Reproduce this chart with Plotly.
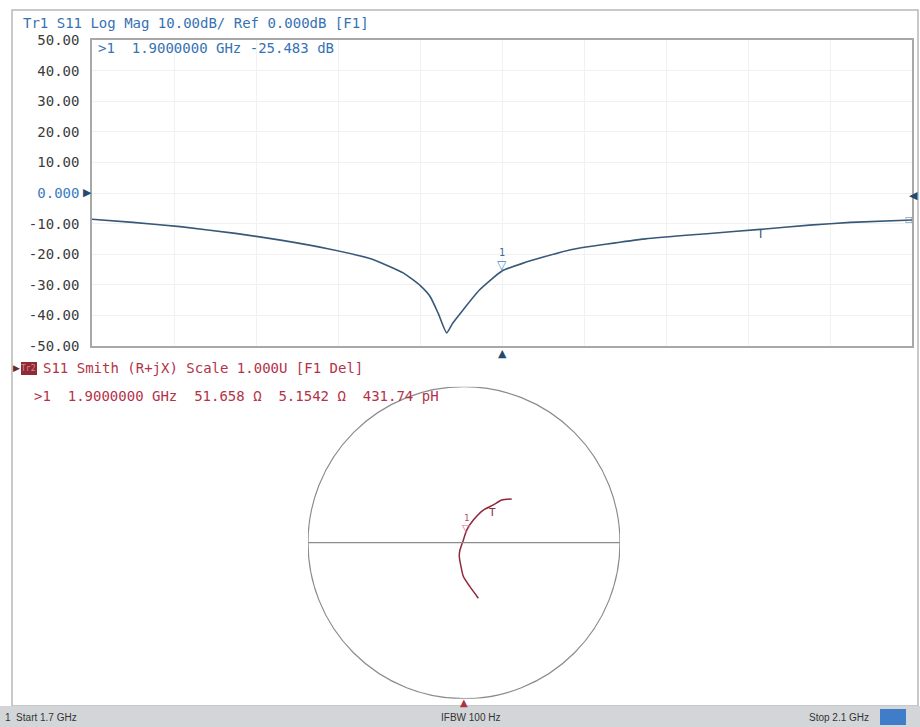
import plotly.graph_objects as go

# ---------------- data ----------------
freq_ghz = [1.700, 1.720, 1.743, 1.770, 1.792, 1.815, 1.836, 1.852, 1.860, 1.865,
            1.869, 1.873, 1.876, 1.881, 1.889, 1.900, 1.910, 1.933, 1.970, 2.000,
            2.026, 2.050, 2.070, 2.100]
s11_db = [-8.6, -9.6, -11.0, -13.2, -15.4, -18.2, -21.5, -26.2, -30.2, -33.9,
          -39.5, -45.7, -42.5, -38.2, -31.7, -25.5, -23.0, -18.6, -15.0, -13.3,
          -11.9, -10.5, -9.6, -8.8]

# Smith chart trace as reflection coefficient (real, imag), 1.7 GHz -> 2.1 GHz
smith_re = [0.092, 0.038, -0.004, -0.030, -0.026, -0.004, 0.017, 0.060, 0.124, 0.188, 0.242, 0.306]
smith_im = [-0.356, -0.282, -0.217, -0.090, -0.047, 0.018, 0.081, 0.145, 0.209, 0.242, 0.274, 0.280]

y_ticks = [50, 40, 30, 20, 10, 0, -10, -20, -30, -40, -50]
y_tick_labels = ["50.00", "40.00", "30.00", "20.00", "10.00", "0.000",
                 "-10.00", "-20.00", "-30.00", "-40.00", "-50.00"]

marker1_freq = 1.9
marker1_db = -25.483
marker1_r = 51.658
marker1_x = 5.1542
marker_t_freq = 2.026
marker_t_db = -11.9
marker_t_gamma = (0.183, 0.223)
z0 = 50.0

header_top = "Tr1 S11 Log Mag 10.00dB/ Ref 0.000dB [F1]"
readout_top = ">1  1.9000000 GHz -25.483 dB"
header_smith = "S11 Smith (R+jX) Scale 1.000U [F1 Del]"
readout_smith = ">1  1.9000000 GHz  51.658 \u03a9  5.1542 \u03a9  431.74 pH"
status_left = "1  Start 1.7 GHz"
status_mid = "IFBW 100 Hz"
status_right = "Stop 2.1 GHz"

# ---------------- helpers ----------------
W, H = 920, 727


def px(x):
    return x / W


def py(y):
    return 1 - y / H


MONO = "DejaVu Sans Mono"
BLUE_TXT = "#3672b4"
TRACE_BLUE = "#38587a"
RED_TXT = "#b3334a"
TRACE_RED = "#8e2a3b"
GRID = "#f1f1f1"

fig = go.Figure()

# Log-mag trace
fig.add_trace(go.Scatter(x=freq_ghz, y=s11_db, mode="lines",
                         line=dict(color=TRACE_BLUE, width=1.6, shape="spline", smoothing=0.5),
                         xaxis="x", yaxis="y", hoverinfo="skip", showlegend=False))

# Smith trace
fig.add_trace(go.Scatter(x=smith_re, y=smith_im, mode="lines",
                         line=dict(color=TRACE_RED, width=1.5, shape="spline", smoothing=0.5),
                         xaxis="x2", yaxis="y2", hoverinfo="skip", showlegend=False))

# marker 1 on smith chart from readout impedance
z = complex(marker1_r, marker1_x)
g = (z - z0) / (z + z0)

annotations = []


def txt(text, x, y, xanchor="left", size=14, color=BLUE_TXT, family=MONO):
    annotations.append(dict(text=text, x=px(x), y=py(y), xref="paper", yref="paper",
                            xanchor=xanchor, yanchor="middle", showarrow=False,
                            font=dict(family=family, size=size, color=color)))


# header texts
txt(header_top, 21, 23)
txt(readout_top, 96, 48)
txt(header_smith, 41, 368, color=RED_TXT)
txt(readout_smith, 32, 396, color=RED_TXT)
txt("Tr2", 28.5, 368.5, xanchor="center", size=8, color="#d88a8a")
txt("\u25b6", 16, 368, xanchor="center", size=9, color="#6b2a2a", family="DejaVu Sans")

# marker 1 symbol on log-mag
annotations.append(dict(text="\u25bd", x=marker1_freq, y=marker1_db, xref="x", yref="y",
                        xanchor="center", yanchor="bottom", showarrow=False, yshift=-3,
                        font=dict(family="DejaVu Sans", size=12, color="#3a8ac8")))
annotations.append(dict(text="1", x=marker1_freq, y=marker1_db, xref="x", yref="y",
                        xanchor="center", yanchor="bottom", showarrow=False, yshift=11,
                        font=dict(family=MONO, size=10, color="#3a6a9a")))
# T marker on log-mag
annotations.append(dict(text="T", x=marker_t_freq, y=marker_t_db, xref="x", yref="y",
                        xanchor="center", yanchor="top", showarrow=False, yshift=4,
                        font=dict(family=MONO, size=12, color=TRACE_BLUE)))
# end square
annotations.append(dict(text="\u25a1", x=freq_ghz[-1], y=s11_db[-1], xref="x", yref="y",
                        xanchor="right", yanchor="middle", showarrow=False, xshift=3,
                        font=dict(family="DejaVu Sans", size=8, color="#5a7aa0")))

# marker 1 on smith
annotations.append(dict(text="\u25bd", x=g.real, y=g.imag, xref="x2", yref="y2",
                        xanchor="center", yanchor="bottom", showarrow=False, yshift=-2,
                        font=dict(family="DejaVu Sans", size=11, color="#e07080")))
annotations.append(dict(text="1", x=g.real, y=g.imag, xref="x2", yref="y2",
                        xanchor="center", yanchor="bottom", showarrow=False, yshift=10,
                        font=dict(family=MONO, size=9, color="#b05060")))
annotations.append(dict(text="T", x=marker_t_gamma[0], y=marker_t_gamma[1], xref="x2", yref="y2",
                        xanchor="center", yanchor="top", showarrow=False, yshift=4,
                        font=dict(family=MONO, size=11, color=TRACE_RED)))

# reference triangles
annotations.append(dict(text="\u25b6", x=px(87), y=0, xref="paper", yref="y",
                        xanchor="center", yanchor="middle", showarrow=False,
                        font=dict(family="DejaVu Sans", size=11, color="#234a70")))
annotations.append(dict(text="\u25c0", x=px(913), y=0, xref="paper", yref="y",
                        xanchor="center", yanchor="middle", showarrow=False, yshift=-3,
                        font=dict(family="DejaVu Sans", size=11, color="#234a70")))
annotations.append(dict(text="\u25b2", x=marker1_freq, y=py(354), xref="x", yref="paper",
                        xanchor="center", yanchor="middle", showarrow=False,
                        font=dict(family="DejaVu Sans", size=11, color="#234a70")))
annotations.append(dict(text="\u25b2", x=0, y=py(702), xref="x2", yref="paper",
                        xanchor="center", yanchor="middle", showarrow=False,
                        font=dict(family="DejaVu Sans", size=10, color="#b03040")))

# status bar texts
txt(status_left, 3, 717, size=10, color="#333", family="Liberation Sans")
txt(status_mid, 470, 717, xanchor="center", size=10, color="#333", family="Liberation Sans")
txt(status_right, 871, 717, xanchor="right", size=10, color="#333", family="Liberation Sans")

shapes = [
    # outer frame
    dict(type="rect", xref="paper", yref="paper", x0=px(12), x1=px(918), y0=py(706), y1=py(10),
         line=dict(color="#b8b8b8", width=1.5), layer="below"),
    # status bar
    dict(type="rect", xref="paper", yref="paper", x0=0, x1=1, y0=0, y1=py(706),
         fillcolor="#d3d6d9", line=dict(width=0)),
    dict(type="rect", xref="paper", yref="paper", x0=px(880), x1=px(906), y0=py(725), y1=py(709),
         fillcolor="#3f7dc8", line=dict(width=0)),
    # red trace-2 box
    dict(type="rect", xref="paper", yref="paper", x0=px(21), x1=px(37), y0=py(375), y1=py(362),
         fillcolor="#8f2a36", line=dict(width=0)),
    # smith outer circle and real axis
    dict(type="circle", xref="x2", yref="y2", x0=-1, x1=1, y0=-1, y1=1,
         line=dict(color="#8c8c8c", width=1.2)),
    dict(type="line", xref="x2", yref="y2", x0=-1, x1=1, y0=0, y1=0,
         line=dict(color="#8c8c8c", width=1.2)),
]

fig.update_layout(
    width=W, height=H,
    margin=dict(l=0, r=0, t=0, b=0, pad=0, autoexpand=False),
    paper_bgcolor="white", plot_bgcolor="white",
    showlegend=False,
    xaxis=dict(domain=[px(92), px(912)], range=[1.7, 2.1], dtick=0.04, tick0=1.7,
               showticklabels=False, showgrid=True, gridcolor=GRID, gridwidth=1,
               zeroline=False, showline=True, linecolor="#a8a8a8", linewidth=1.5,
               mirror=True, ticks="", automargin=False),
    yaxis=dict(domain=[py(346), py(40)], range=[-50, 50], tickvals=y_ticks,
               ticktext=[('<span style="color:#3a7cc0">%s</span>' % t) if v == 0 else t
                         for v, t in zip(y_ticks, y_tick_labels)],
               tickfont=dict(family=MONO, size=14, color="#3c3c3c"),
               showgrid=True, gridcolor=GRID, gridwidth=1, zeroline=False,
               showline=True, linecolor="#a8a8a8", linewidth=1.5, mirror=True,
               ticks="", ticklabelstandoff=8, automargin=False),
    xaxis2=dict(domain=[px(308), px(620)], range=[-1, 1], visible=False,
                anchor="y2", automargin=False),
    yaxis2=dict(domain=[py(698.7), py(386.7)], range=[-1, 1], visible=False,
                anchor="x2", automargin=False),
    annotations=annotations,
    shapes=shapes,
)

post_js = (
    "var de=document.documentElement, b=document.body;"
    "de.style.margin='0'; de.style.padding='0'; de.style.overflow='hidden';"
    "b.style.margin='0'; b.style.padding='0'; b.style.overflow='hidden';"
)

fig.write_html("out.html", post_script=post_js,
               config={"displayModeBar": False})
